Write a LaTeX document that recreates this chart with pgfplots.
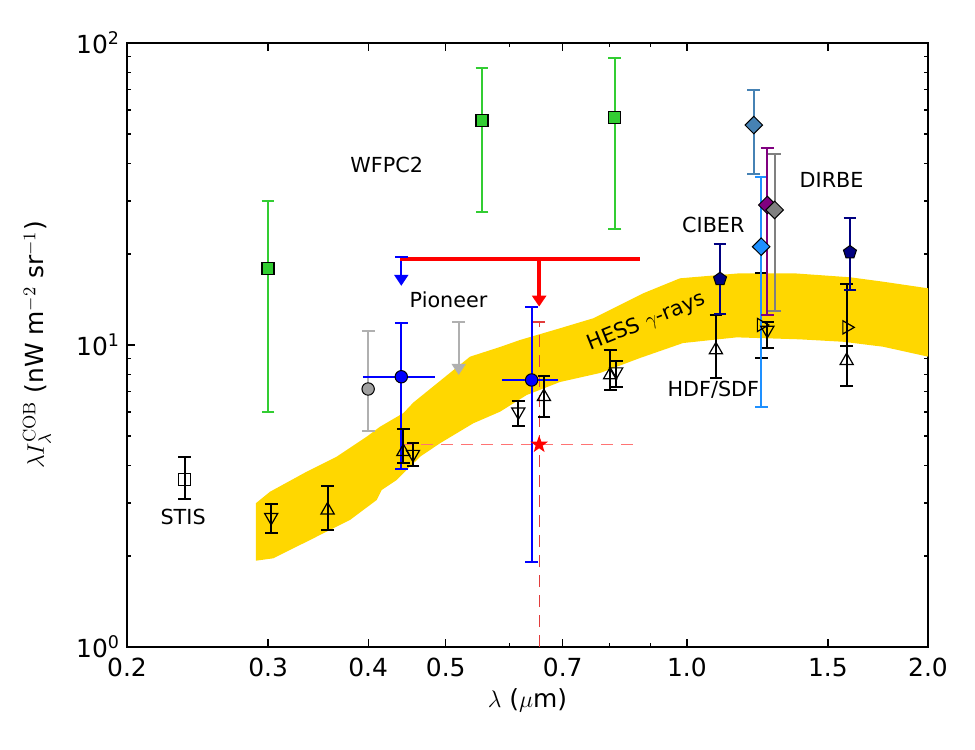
\documentclass[border=0pt]{standalone}
\usepackage[no-math]{fontspec}
\setmainfont{DejaVu Sans}
\usepackage{pgfplots}
\pgfplotsset{compat=1.18}
\usetikzlibrary{arrows.meta,plotmarks}
\definecolor{limegreen}{RGB}{50,205,50}
\definecolor{navyc}{RGB}{0,0,128}
\definecolor{steelblue}{RGB}{70,130,180}
\definecolor{dodgerblue}{RGB}{30,144,255}
\definecolor{purplec}{RGB}{128,0,128}
\definecolor{grayc}{RGB}{128,128,128}
\definecolor{darkgrayc}{RGB}{160,160,160}
\definecolor{lightg}{RGB}{176,176,176}
\definecolor{goldc}{RGB}{255,215,0}
\definecolor{dashred}{RGB}{225,60,60}
\pgfdeclareplotmark{fstar}{%
  \pgfpathmoveto{\pgfqpointpolar{90}{\pgfplotmarksize}}%
  \pgfpathlineto{\pgfqpointpolar{126}{0.4\pgfplotmarksize}}%
  \pgfpathlineto{\pgfqpointpolar{162}{\pgfplotmarksize}}%
  \pgfpathlineto{\pgfqpointpolar{198}{0.4\pgfplotmarksize}}%
  \pgfpathlineto{\pgfqpointpolar{234}{\pgfplotmarksize}}%
  \pgfpathlineto{\pgfqpointpolar{270}{0.4\pgfplotmarksize}}%
  \pgfpathlineto{\pgfqpointpolar{306}{\pgfplotmarksize}}%
  \pgfpathlineto{\pgfqpointpolar{342}{0.4\pgfplotmarksize}}%
  \pgfpathlineto{\pgfqpointpolar{18}{\pgfplotmarksize}}%
  \pgfpathlineto{\pgfqpointpolar{54}{0.4\pgfplotmarksize}}%
  \pgfpathclose\pgfusepathqfill}
\pgfplotsset{
  ebar/.style={/tikz/only marks,
    /pgfplots/error bars/y dir=both,
    /pgfplots/error bars/y explicit,
    /pgfplots/error bars/error bar style={line width=1bp, #1, solid},
    /pgfplots/error bars/error mark=|,
    /pgfplots/error bars/error mark options={line width=1bp, mark size=3.2bp, #1, solid}},
}
\newcommand{\lf}{\fontsize{10.4}{12}\selectfont}
\begin{document}
\begin{tikzpicture}
\begin{axis}[
  width=400.5bp, height=302bp, scale only axis,
  xmode=log, ymode=log,
  xmin=0.2, xmax=2.0, ymin=1, ymax=100,
  xtick={0.2,0.3,0.4,0.5,0.7,1.0,1.5,2.0},
  xticklabels={0.2,0.3,0.4,0.5,0.7,1.0,1.5,2.0},
  minor xtick={0.6,0.8,0.9},
  ytick={1,10,100},
  yticklabels={10\textsuperscript{0},10\textsuperscript{1},10\textsuperscript{2}},
  tick align=inside,
  major tick length=4bp, minor tick length=2bp,
  every tick/.style={black, line width=0.6bp},
  axis line style={line width=1.2bp},
  tick label style={font=\fontsize{12.5}{14}\selectfont},
  xticklabel style={yshift=-2bp},
  xlabel={$\lambda$ ($\mu$m)},
  ylabel={$\lambda I_\lambda^{\mathrm{COB}}$ (nW m$^{-2}$ sr$^{-1}$)},
  every axis x label/.style={at={(axis description cs:0.5,-0.0877)}, anchor=center, font=\fontsize{12.5}{15}\selectfont},
  every axis y label/.style={at={(axis description cs:-0.1124,0.5)}, rotate=90, anchor=center, font=\fontsize{12.5}{15}\selectfont},
]
% HESS band
\addplot[fill=goldc, draw=none] coordinates {
 (0.2896,2.991) (0.3017,3.267) (0.3352,3.806) (0.3654,4.267) (0.3984,4.971)
 (0.4139,5.363) (0.4426,5.95) (0.4555,6.45) (0.5361,9.148) (0.5844,9.85)
 (0.6190,10.39) (0.6944,11.36) (0.7641,12.26) (0.8824,14.84) (0.9804,16.63)
 (1.1651,17.28) (1.3577,17.28) (1.5982,16.76) (1.7590,16.20) (2.0,15.41)
 (2.0,9.15) (1.7574,9.87) (1.5664,10.25) (1.3841,10.44) (1.1541,10.60)
 (0.9889,10.15) (0.8740,9.057) (0.7790,8.077) (0.6944,7.542) (0.6310,6.831)
 (0.5844,6.013) (0.5412,5.505) (0.4918,4.727) (0.4644,4.267) (0.4469,3.856)
 (0.4343,3.573) (0.4159,3.311) (0.4100,3.068) (0.3797,2.634) (0.3352,2.232)
 (0.3045,1.967) (0.2896,1.931)
} -- cycle;
\node[rotate=22, font=\lf] at (axis cs:0.891,11.9) {HESS $\gamma$-rays};
% red dashed guides
\addplot[red!55, line width=0.7bp, dash pattern=on 6bp off 4bp] coordinates {(0.44,4.68) (0.874,4.68)};
\addplot[dashred, line width=0.6bp, dash pattern=on 6bp off 4bp] coordinates {(0.654,1) (0.654,11.9)};
\addplot[dashred, only marks, mark=-, mark size=3bp, mark options={line width=0.7bp, solid}] coordinates {(0.654,11.9)};
% WFPC2
\addplot[limegreen, mark=square*, mark size=3bp, mark options={fill=limegreen, draw=black, line width=0.6bp}, ebar=limegreen] coordinates {
 (0.30,17.9) += (0,12.1) -= (0,11.9)
 (0.555,55.3) += (0,27.4) -= (0,27.7)
 (0.813,56.6) += (0,32.4) -= (0,32.3)
};
% STIS
\addplot[black, mark=square, mark size=3bp, mark options={line width=0.6bp}, ebar=black] coordinates {
 (0.236,3.59) += (0,0.68) -= (0,0.51)
};
% gray circle and arrow
\addplot[darkgrayc, mark=*, mark size=3.1bp, mark options={fill=darkgrayc, draw=black, line width=0.5bp}, ebar=lightg] coordinates {
 (0.40,7.15) += (0,3.95) -= (0,1.96)
};
\addplot[lightg, line width=1bp, -{Triangle[width=7bp,length=5.5bp]}] coordinates {(0.519,11.9) (0.519,7.96)};
\addplot[lightg, only marks, mark=-, mark size=3.2bp, mark options={line width=1bp}] coordinates {(0.519,11.9)};
% Pioneer blue
\addplot[blue, line width=1bp, -{Triangle[width=7bp,length=5.5bp]}] coordinates {(0.44,19.6) (0.44,15.7)};
\addplot[blue, only marks, mark=-, mark size=3.2bp, mark options={line width=1bp}] coordinates {(0.44,19.6)};
\addplot[blue, line width=1bp] coordinates {(0.394,7.85) (0.485,7.85)};
\addplot[blue, line width=1bp] coordinates {(0.588,7.66) (0.691,7.66)};
\addplot[blue, mark=*, mark size=3.1bp, mark options={fill=blue, draw=black, line width=0.5bp}, ebar=blue] coordinates {
 (0.44,7.85) +- (0,3.95)
 (0.640,7.66) +- (0,5.75)
};
% red limit
\addplot[red, line width=2bp] coordinates {(0.438,19.2) (0.874,19.2)};
\addplot[red, line width=2bp, -{Triangle[width=7bp,length=5.5bp]}] coordinates {(0.654,19.2) (0.654,13.4)};
\addplot[red, only marks, mark=fstar, mark size=4.6bp] coordinates {(0.654,4.68)};
% HDF/SDF triangles
\addplot[black, mark=triangle, mark size=3.8bp, mark options={line width=0.6bp, rotate=180}, ebar=black] coordinates {
 (0.3027,2.69) += (0,0.285) -= (0,0.30)
 (0.455,4.35) += (0,0.40) -= (0,0.37)
 (0.616,6.01) += (0,0.53) -= (0,0.62)
 (0.816,8.16) += (0,0.69) -= (0,0.88)
 (1.26,11.2) += (0,0.75) -= (0,1.45)
};
\addplot[black, mark=triangle, mark size=3.8bp, mark options={line width=0.6bp}, ebar=black] coordinates {
 (0.356,2.84) += (0,0.58) -= (0,0.40)
 (0.4426,4.43) += (0,0.83) -= (0,0.35)
 (0.663,6.74) += (0,1.17) -= (0,0.95)
 (0.802,7.96) += (0,1.67) -= (0,0.86)
 (1.087,9.63) += (0,2.94) -= (0,1.84)
 (1.583,8.87) += (0,1.08) -= (0,1.55)
};
\addplot[black, mark=triangle, mark size=3.8bp, mark options={line width=0.6bp, rotate=-90}, ebar=black] coordinates {
 (1.238,11.65) += (0,5.63) -= (0,2.57)
 (1.583,11.44) += (0,4.46) -= (0,1.49)
};
% CIBER / DIRBE pentagons
\addplot[navyc, mark=pentagon*, mark size=3.4bp, mark options={fill=navyc, draw=black, line width=0.5bp}, ebar=navyc] coordinates {
 (1.10,16.54) += (0,5.0) -= (0,3.9)
 (1.598,20.28) += (0,6.0) -= (0,5.07)
};
% diamonds
\addplot[steelblue, mark=square*, mark size=3.1bp, mark options={rotate=45, fill=steelblue, draw=black, line width=0.5bp}, ebar=steelblue] coordinates {
 (1.212,53.5) +- (0,16.6)
};
\addplot[dodgerblue, mark=square*, mark size=3.1bp, mark options={rotate=45, fill=dodgerblue, draw=black, line width=0.5bp}, ebar=dodgerblue] coordinates {
 (1.238,21.16) +- (0,14.95)
};
\addplot[purplec, mark=square*, mark size=3.1bp, mark options={rotate=45, fill=purplec, draw=black, line width=0.5bp}, ebar=purplec] coordinates {
 (1.26,29.08) += (0,15.7) -= (0,16.5)
};
\addplot[grayc, mark=square*, mark size=3.1bp, mark options={rotate=45, fill=grayc, draw=black, line width=0.5bp}, ebar=grayc] coordinates {
 (1.287,28.0) += (0,14.8) -= (0,15.0)
};
% labels
\node[font=\lf] at (axis cs:0.422,39.4) {WFPC2};
\node[font=\lf] at (axis cs:0.504,14.1) {Pioneer};
\node[font=\lf] at (axis cs:0.235,2.69) {STIS};
\node[font=\lf] at (axis cs:1.079,24.96) {CIBER};
\node[font=\lf] at (axis cs:1.516,35.2) {DIRBE};
\node[font=\lf] at (axis cs:1.079,7.1) {HDF/SDF};
\end{axis}
\path ([shift={(-63.5bp,-51.5bp)}]current axis.south west) rectangle ([shift={(23.5bp,21.5bp)}]current axis.north east);
\end{tikzpicture}
\end{document}
